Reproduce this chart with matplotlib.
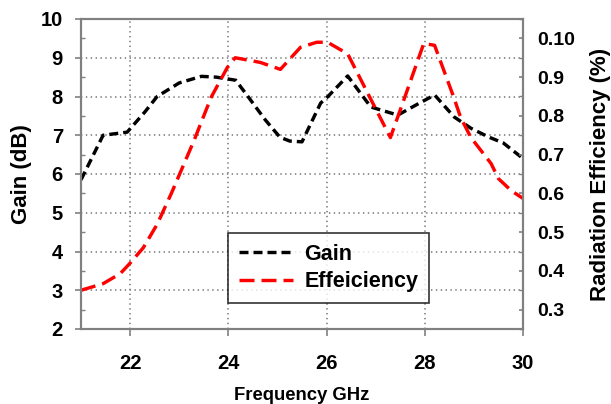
import numpy as np
import matplotlib
matplotlib.use("Agg")
import matplotlib.pyplot as plt
from matplotlib.ticker import MultipleLocator

plt.rcParams['font.family'] = ['Liberation Sans', 'DejaVu Sans']
plt.rcParams['font.weight'] = 'bold'
plt.rcParams['lines.scale_dashes'] = False

# Data
gain_freq = [21.0, 21.45, 21.94, 22.3, 22.55, 23.0, 23.45, 23.75, 24.15, 24.4, 24.75,
             25.05, 25.25, 25.5, 25.88, 26.02, 26.43, 26.9, 27.45, 27.82, 28.2,
             28.6, 28.94, 29.29, 29.6, 30.0]
gain_db = [5.85, 7.0, 7.08, 7.6, 8.0, 8.35, 8.52, 8.5, 8.42, 8.0, 7.4,
           6.95, 6.85, 6.83, 7.83, 7.99, 8.53, 7.73, 7.52, 7.78, 8.04,
           7.47, 7.18, 6.96, 6.8, 6.4]

eff_freq = [21.0, 21.45, 21.8, 22.0, 22.27, 22.55, 22.84, 23.3, 23.65, 23.98, 24.14,
            24.65, 25.06, 25.47, 25.8, 26.02, 26.43, 26.84, 27.3, 27.57, 27.98,
            28.2, 28.59, 28.73, 28.94, 29.35, 29.5, 29.76, 30.0]
efficiency = [0.35, 0.367, 0.393, 0.42, 0.46, 0.52, 0.60, 0.736, 0.848, 0.925, 0.95,
              0.938, 0.92, 0.977, 0.99, 0.99, 0.96, 0.858, 0.744, 0.84, 0.987,
              0.982, 0.848, 0.796, 0.744, 0.677, 0.638, 0.607, 0.587]

right_ticks = [0.3, 0.4, 0.5, 0.6, 0.7, 0.8, 0.9, 1.0]
right_labels = ['0.3', '0.4', '0.5', '0.6', '0.7', '0.8', '0.9', '0.10']

px = 0.72  # points per pixel at dpi 100

fig = plt.figure(figsize=(6.11, 4.04), dpi=100)
ax1 = fig.add_axes([81 / 611, 1 - 329 / 404, 442 / 611, 310 / 404])
ax2 = ax1.twinx()

l1, = ax1.plot(gain_freq, gain_db, color='black', lw=3.4 * px,
               dashes=(9 * px, 5 * px), label='Gain')
l2, = ax2.plot(eff_freq, efficiency, color='#ff0000', lw=3.4 * px,
               dashes=(15 * px, 7 * px), label='Effeiciency')

ax1.set_xlim(21, 30)
ax1.set_ylim(2, 10)
ax2.set_ylim(0.25, 1.05)

ax1.set_xticks([22, 24, 26, 28, 30])
ax1.set_yticks(np.arange(2, 11, 1))
ax1.yaxis.set_minor_locator(MultipleLocator(0.5))
ax2.set_yticks(right_ticks)
ax2.set_yticklabels(right_labels)
ax2.yaxis.set_minor_locator(MultipleLocator(0.05))

ax1.grid(True, which='major', color='#888888', linestyle=(0, (1, 2.5)), lw=1.3)

for ax in (ax1, ax2):
    for s in ax.spines.values():
        s.set_color('#808080')
        s.set_linewidth(1.5)

ax1.tick_params(axis='x', direction='out', length=5, width=1.2, color='#808080',
                labelsize=14.5, pad=13)
ax1.tick_params(axis='y', which='major', direction='out', length=4, width=1.2,
                color='#808080', labelsize=14.5, pad=9)
ax1.tick_params(axis='y', which='minor', direction='in', length=3, width=1,
                color='#808080')
ax2.tick_params(axis='y', which='major', direction='in', length=3, width=1.2,
                color='#808080', labelsize=14, pad=10)
ax2.tick_params(axis='y', which='minor', direction='in', length=3, width=1,
                color='#808080')

ax1.set_xlabel('Frequency GHz', fontsize=13.3, fontweight='bold', labelpad=10)
ax1.set_ylabel('Gain (dB)', fontsize=16, fontweight='bold', labelpad=6)
ax2.set_ylabel('Radiation Efficiency (%)', fontsize=16, fontweight='bold', labelpad=11)

leg = ax1.legend(handles=[l1, l2], loc='upper left', bbox_to_anchor=(0.333, 0.31),
                 fontsize=15.5, handlelength=2.5, frameon=True, fancybox=False,
                 borderpad=0.5, labelspacing=0.3, handletextpad=0.55, borderaxespad=0)
leg.get_frame().set_edgecolor('black')
leg.get_frame().set_linewidth(1.2)
leg.set_zorder(5)

fig.savefig('out.png', dpi=100)
